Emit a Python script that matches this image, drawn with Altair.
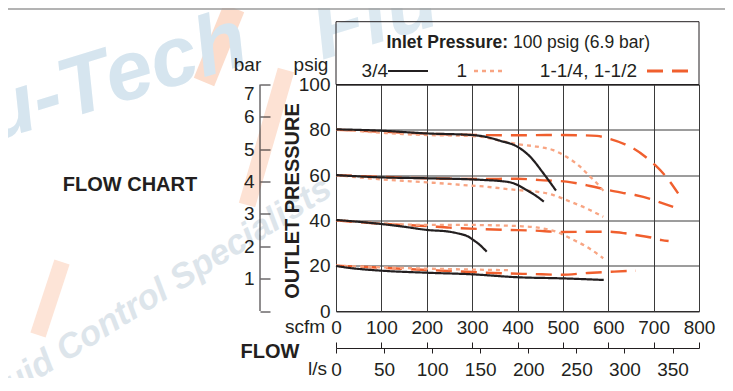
import altair as alt
import pandas as pd

FONT = "Liberation Sans"
INK = "#231f20"
W, H = 363, 226.5
X0, Y0 = 336, 84.5          # page position of the plot's top-left corner
SVG_W, SVG_H = 717, 370     # drawing size (page has an 8px margin)

# ---------------- data ----------------
series = ["3/4", "1", "1-1/4, 1-1/2"]
series_colors = ["#231f20", "#f8a583", "#f05f2e"]
series_dash = [[1, 0], [4, 4], [16, 9]]
series_width = [2.2, 2.4, 2.8]

scfm_ticks = [0, 100, 200, 300, 400, 500, 600, 700, 800]
psig_ticks = [0, 20, 40, 60, 80, 100]
bar_ticks = [0, 1, 2, 3, 4, 5, 6, 7]
lps_ticks = [0, 50, 100, 150, 200, 250, 300, 350]
LPS_MAX = 800 / 2.11888

# 3/4 (solid black)
a80_x = [0, 100, 200, 300, 330, 361, 400, 428, 457, 485]
a80_y = [80.2, 79.6, 78.4, 77.7, 76.9, 75.2, 72.5, 68.1, 60.8, 53.1]
a60_x = [0, 100, 200, 300, 330, 361, 391, 420, 439, 458]
a60_y = [60.0, 59.0, 58.6, 58.1, 57.8, 57.4, 56.4, 53.4, 51.1, 48.3]
a40_x = [0, 100, 150, 200, 250, 270, 290, 303, 318, 332]
a40_y = [40.2, 38.4, 37.2, 35.8, 35.0, 34.2, 33.0, 31.3, 29.0, 26.2]
a20_x = [0, 30, 60, 100, 200, 300, 400, 500, 590]
a20_y = [19.9, 19.0, 18.4, 17.8, 16.9, 16.2, 14.9, 14.4, 13.7]

# 1 (light dotted)
b80_x = [0, 100, 147, 200, 300, 330, 361, 400, 442, 479, 508, 538, 560, 575, 591]
b80_y = [80.2, 78.7, 78.1, 77.7, 77.2, 76.6, 75.2, 73.7, 72.6, 71.0, 68.1, 63.7, 59.3, 56.4, 52.7]
b60_x = [0, 100, 147, 200, 250, 300, 330, 361, 400, 442, 479, 516, 552, 589]
b60_y = [60.0, 58.1, 57.5, 56.8, 56.1, 55.3, 54.9, 54.2, 53.4, 52.7, 51.2, 48.3, 45.3, 41.6]
b40_x = [0, 100, 200, 300, 330, 400, 442, 464, 486, 516, 552, 589]
b40_y = [40.2, 38.7, 38.0, 38.0, 37.9, 37.5, 36.9, 36.1, 35.0, 32.1, 28.4, 23.3]
b20_x = [0, 100, 200, 300, 380]
b20_y = [20.0, 19.3, 18.7, 18.3, 18.0]

# 1-1/4, 1-1/2 (orange dashed)
c80_x = [0, 100, 200, 300, 400, 464, 538, 575, 600, 637, 655, 688, 703, 729, 754]
c80_y = [80.0, 79.2, 78.3, 77.7, 77.6, 77.7, 77.6, 77.3, 76.2, 73.6, 71.8, 67.1, 64.5, 58.9, 51.9]
c60_x = [0, 100, 200, 317, 400, 450, 508, 560, 600, 637, 659, 696, 714, 743]
c60_y = [60.0, 59.2, 58.6, 58.3, 58.4, 57.8, 57.1, 55.2, 53.4, 52.0, 51.2, 49.3, 48.0, 46.0]
c40_x = [0, 100, 200, 250, 317, 377, 438, 496, 560, 600, 637, 659, 696, 718, 733]
c40_y = [40.0, 38.5, 37.5, 36.8, 36.2, 35.8, 35.5, 34.9, 35.0, 35.0, 34.3, 33.6, 32.4, 31.3, 30.9]
c20_x = [0, 100, 200, 300, 330, 376, 435, 496, 555, 613, 661]
c20_y = [20.0, 19.1, 18.1, 17.2, 16.9, 16.6, 16.3, 16.0, 16.8, 17.4, 17.8]

curves = [
    ("1-1/4, 1-1/2", "80", c80_x, c80_y), ("1-1/4, 1-1/2", "60", c60_x, c60_y),
    ("1-1/4, 1-1/2", "40", c40_x, c40_y), ("1-1/4, 1-1/2", "20", c20_x, c20_y),
    ("1", "80", b80_x, b80_y), ("1", "60", b60_x, b60_y),
    ("1", "40", b40_x, b40_y), ("1", "20", b20_x, b20_y),
    ("3/4", "80", a80_x, a80_y), ("3/4", "60", a60_x, a60_y),
    ("3/4", "40", a40_x, a40_y), ("3/4", "20", a20_x, a20_y),
]
rows = []
for k, (ser, lvl, xs, ys) in enumerate(curves):
    for i, (xv, yv) in enumerate(zip(xs, ys)):
        rows.append({"series": ser, "curve": f"{k:02d}-{ser}-{lvl}", "scfm": xv, "psig": yv, "i": i})
df = pd.DataFrame(rows)

ONE = pd.DataFrame({"k": [0]})


def px(x):
    return x - X0


def py(y):
    return y - Y0


# ---------------- faint background watermark ----------------
def wm_text(text, x, y, size, angle, color):
    return alt.Chart(pd.DataFrame({"t": [text]})).mark_text(
        align="left", baseline="alphabetic", fontSize=size, font=FONT, fontWeight="bold",
        fontStyle="italic", angle=angle, color=color,
    ).encode(x=alt.value(px(x)), y=alt.value(py(y)), text="t:N")


def wm_band(x1, y1, x2, y2, width, color):
    return alt.Chart(ONE).mark_rule(color=color, strokeWidth=width, strokeCap="butt").encode(
        x=alt.value(px(x1)), y=alt.value(py(y1)), x2=alt.value(px(x2)), y2=alt.value(py(y2))
    )


watermark = [
    wm_band(234, 8, 204, 82, 22, "#fcdccb"),
    wm_band(286, 70, 247, 205, 17, "#fde2d4"),
    wm_band(62, 262, 38, 335, 16, "#fde4d7"),
    wm_text("u-Tech", -8, 142, 84, 343, "#d6e5ef"),
    wm_text("Flu", 322, 60, 84, 343, "#dce9f1"),
    wm_text("Fluid Control Specialists", -14, 412, 35, 328, "#dde5eb"),
]

# ---------------- chart layers ----------------
# data lines with the grid (grid stays under the lines)
lines = alt.Chart(df).mark_line(interpolate="monotone", strokeCap="butt").encode(
    x=alt.X("scfm:Q", scale=alt.Scale(domain=[0, 800], nice=False),
            axis=alt.Axis(orient="bottom", values=scfm_ticks, grid=True, ticks=False, labels=False,
                          domain=False, title=None)),
    y=alt.Y("psig:Q", scale=alt.Scale(domain=[0, 100], nice=False),
            axis=alt.Axis(orient="left", values=psig_ticks, grid=True, ticks=False, labels=False,
                          domain=False, title=None)),
    color=alt.Color("series:N", scale=alt.Scale(domain=series, range=series_colors), legend=None),
    strokeDash=alt.StrokeDash("series:N", scale=alt.Scale(domain=series, range=series_dash), legend=None),
    strokeWidth=alt.StrokeWidth("series:N", scale=alt.Scale(domain=series, range=series_width), legend=None),
    detail="curve:N",
    order="i:Q",
)

# label-only axes drawn above the watermark
psig_axis = alt.Chart(pd.DataFrame({"psig": psig_ticks})).mark_point(opacity=0).encode(
    y=alt.Y("psig:Q", scale=alt.Scale(domain=[0, 100], nice=False),
            axis=alt.Axis(orient="left", values=psig_ticks, grid=False, ticks=False, tickSize=0,
                          domain=False, labelPadding=6, title=None, zindex=1))
)
scfm_axis = alt.Chart(pd.DataFrame({"scfm": scfm_ticks})).mark_point(opacity=0).encode(
    x=alt.X("scfm:Q", scale=alt.Scale(domain=[0, 800], nice=False),
            axis=alt.Axis(orient="bottom", values=scfm_ticks, grid=False, ticks=False, tickSize=0,
                          domain=False, labelPadding=7, labelFlush=False, title=None, zindex=1))
)
bar_axis = alt.Chart(pd.DataFrame({"bar": bar_ticks})).mark_point(opacity=0).encode(
    y=alt.Y("bar:Q", scale=alt.Scale(domain=[0, 7], nice=False),
            axis=alt.Axis(orient="left", offset=66, values=bar_ticks, tickSize=10, domain=False,
                          grid=False, labelPadding=6, labelFlush=True, title=None, zindex=1,
                          labelExpr="datum.value == 0 ? '' : datum.label"))
)
bar_line = alt.Chart(ONE).mark_rule(color=INK, strokeWidth=1).encode(
    x=alt.value(-76), y=alt.value(0), y2=alt.value(H)
)
scfm_tick_axis = alt.Chart(pd.DataFrame({"scfm": scfm_ticks})).mark_point(opacity=0).encode(
    x=alt.X("scfm:Q", scale=alt.Scale(domain=[0, 800], nice=False),
            axis=alt.Axis(orient="bottom", offset=31, values=scfm_ticks, tickSize=6, labels=False,
                          domain=False, grid=False, title=None, zindex=1))
)
lps_axis = alt.Chart(pd.DataFrame({"lps": lps_ticks})).mark_point(opacity=0).encode(
    x=alt.X("lps:Q", scale=alt.Scale(domain=[0, LPS_MAX], nice=False),
            axis=alt.Axis(orient="bottom", offset=37, values=lps_ticks, tickSize=5, domain=True,
                          labelPadding=7, labelFlush=False, grid=False, title=None, zindex=1))
)


def label(text, x, y, size, bold=False, align="center", angle=0):
    return alt.Chart(pd.DataFrame({"t": [text]})).mark_text(
        align=align, baseline="middle", fontSize=size, font=FONT, color=INK,
        fontWeight="bold" if bold else "normal", angle=angle,
    ).encode(x=alt.value(x), y=alt.value(y), text="t:N")


def sample(x1, x2, y, color, dash, width):
    return alt.Chart(ONE).mark_rule(
        color=color, strokeDash=dash, strokeWidth=width, strokeCap="butt"
    ).encode(x=alt.value(x1), x2=alt.value(x2), y=alt.value(y))


legend_box = alt.Chart(ONE).mark_rect(
    fillOpacity=0, stroke=INK, strokeWidth=1
).encode(x=alt.value(0), x2=alt.value(W), y=alt.value(-62.8), y2=alt.value(0))

top_rule = alt.Chart(ONE).mark_rule(color="#9a9a9a", strokeWidth=1.5).encode(
    x=alt.value(px(8)), x2=alt.value(px(725)), y=alt.value(py(9))
)

annotations = [
    label("Inlet Pressure:", 172, -41.2, 17.5, bold=True, align="right"),
    label("100 psig (6.9 bar)", 177, -41.2, 17.5, align="left"),
    label("3/4", 52, -13.5, 19, align="right"),
    sample(52, 92, -13.5, series_colors[0], series_dash[0], 2.2),
    label("1", 131, -13.5, 19, align="right"),
    sample(138, 169, -13.5, series_colors[1], series_dash[1], 2.4),
    label("1-1/4, 1-1/2", 301, -13.5, 19, align="right"),
    sample(311, 352, -13.5, series_colors[2], series_dash[2], 2.8),
    label("bar", -88.5, -20, 19),
    label("psig", -25, -20, 19),
    label("OUTLET PRESSURE", -43.5, 116.5, 20, bold=True, angle=270),
    label("FLOW CHART", -206, 100.5, 20, bold=True),
    label("scfm", -11, 242.5, 19, align="right"),
    label("FLOW", -66, 267.5, 20, bold=True),
    label("l/s", -9, 284, 19, align="right"),
]

chart = alt.layer(
    *watermark, top_rule, legend_box, lines, psig_axis, scfm_axis, bar_axis, bar_line,
    scfm_tick_axis, lps_axis, *annotations
).resolve_scale(
    x="independent", y="independent"
).properties(
    width=W, height=H,
    autosize=alt.AutoSizeParams(type="none"),
    padding={"left": X0 - 8, "top": Y0 - 8,
             "right": SVG_W - (X0 - 8) - W, "bottom": SVG_H - (Y0 - 8) - H},
).configure_view(
    stroke=INK, strokeWidth=1
).configure_axis(
    labelFont=FONT, labelFontSize=19, labelColor=INK, tickColor=INK, domainColor=INK,
    gridColor="#3a3a3a", gridWidth=1, tickWidth=1, domainWidth=1
)

chart.save("out.html", embed_options={"renderer": "svg", "actions": False})
